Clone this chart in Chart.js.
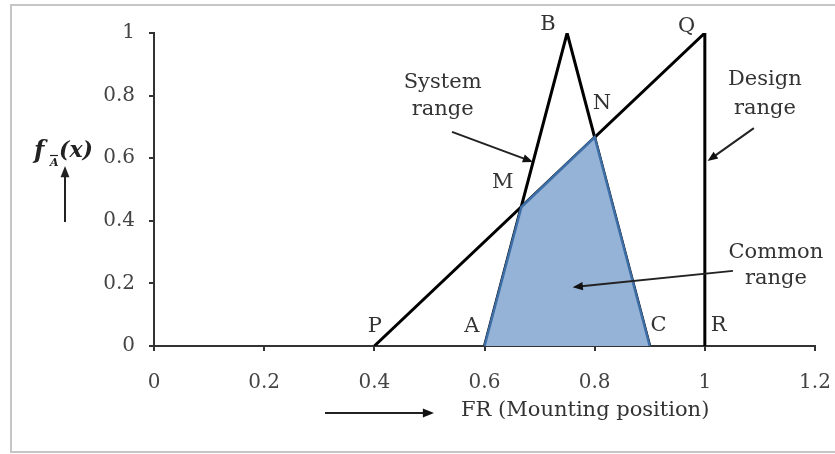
<!DOCTYPE html>
<html>
<head>
<meta charset="utf-8">
<script src="https://cdn.jsdelivr.net/npm/chart.js@4/dist/chart.umd.min.js"></script>
<style>
  html, body { margin: 0; padding: 0; background: #fff; }
  #wrap { width: 835px; height: 454px; position: relative; }
</style>
</head>
<body>
<div id="wrap"><canvas id="chart" width="835" height="454"></canvas></div>
<script>
// data
const designX = [0.4, 1, 1];          // P, Q, R
const designY = [0, 1, 0];
const systemX = [0.6, 0.75, 0.9];     // A, B, C
const systemY = [0, 1, 0];
const commonX = [0.6, 0.667, 0.8, 0.9];   // A, M, N, C
const commonY = [0, 0.444, 0.667, 0];
const baseX = [0.6, 0.9];                 // bottom edge A-C
const baseY = [0, 0];
const xTicks = [0, 0.2, 0.4, 0.6, 0.8, 1, 1.2];
const yTicks = [0, 0.2, 0.4, 0.6, 0.8, 1];

// point labels, in data units
const pointLabels = [
    { t: "B", x: 0.715, y: 1.026 },
    { t: "Q", x: 0.967, y: 1.022 },
    { t: "N", x: 0.813, y: 0.776 },
    { t: "M", x: 0.633, y: 0.521 },
    { t: "P", x: 0.401, y: 0.061 },
    { t: "A", x: 0.577, y: 0.061 },
    { t: "C", x: 0.916, y: 0.064 },
    { t: "R", x: 1.025, y: 0.064 }
];
const notes = [
    { lines: ["System", "range"], x: 0.524, y: [0.843, 0.757], from: [0.541, 0.684], to: [0.688, 0.588] },
    { lines: ["Design", "range"], x: 1.109, y: [0.850, 0.760], from: [1.089, 0.696], to: [1.005, 0.591] },
    { lines: ["Common", "range"], x: 1.129, y: [0.300, 0.214], from: [1.051, 0.240], to: [0.760, 0.188] }
];

function toPoints(xs, ys) {
    return xs.map((x, i) => ({ x: x, y: ys[i] }));
}

function arrow(ctx, x1, y1, x2, y2, head) {
    const a = Math.atan2(y2 - y1, x2 - x1);
    ctx.beginPath();
    ctx.moveTo(x1, y1);
    ctx.lineTo(x2 - Math.cos(a) * head * 0.8, y2 - Math.sin(a) * head * 0.8);
    ctx.stroke();
    ctx.beginPath();
    ctx.moveTo(x2, y2);
    ctx.lineTo(x2 - head * Math.cos(a - 0.38), y2 - head * Math.sin(a - 0.38));
    ctx.lineTo(x2 - head * Math.cos(a + 0.38), y2 - head * Math.sin(a + 0.38));
    ctx.closePath();
    ctx.fill();
}

const decorations = {
    id: "decorations",
    beforeDraw(chart) {
        const ctx = chart.ctx;
        ctx.save();
        ctx.fillStyle = "#fff";
        ctx.fillRect(0, 0, chart.width, chart.height);
        ctx.strokeStyle = "#c6c6c6";
        ctx.lineWidth = 2;
        ctx.strokeRect(11, 5, 840, 447);
        ctx.restore();
    },
    afterDraw(chart) {
        const ctx = chart.ctx;
        const xs = chart.scales.x, ys = chart.scales.y;
        ctx.save();
        ctx.fillStyle = "#333";
        ctx.strokeStyle = "#222";
        ctx.textAlign = "center";
        ctx.textBaseline = "middle";
        ctx.font = "21px 'DejaVu Serif'";
        pointLabels.forEach(p => {
            ctx.fillText(p.t, xs.getPixelForValue(p.x), ys.getPixelForValue(p.y));
        });
        notes.forEach(n => {
            ctx.fillStyle = "#333";
            n.lines.forEach((s, i) => {
                ctx.fillText(s, xs.getPixelForValue(n.x), ys.getPixelForValue(n.y[i]));
            });
            ctx.fillStyle = "#111";
            ctx.lineWidth = 2;
            arrow(ctx, xs.getPixelForValue(n.from[0]), ys.getPixelForValue(n.from[1]),
                xs.getPixelForValue(n.to[0]), ys.getPixelForValue(n.to[1]), 11);
        });

        // x axis title with arrow
        ctx.fillStyle = "#333";
        ctx.textAlign = "left";
        ctx.fillText("FR (Mounting position)", 461, 411);
        ctx.fillStyle = "#111";
        arrow(ctx, 325, 413, 434, 413, 12);

        // y axis label f_A(x) with arrow
        ctx.fillStyle = "#222";
        ctx.font = "bold italic 24px 'DejaVu Serif'";
        ctx.fillText("f", 34, 152);
        ctx.font = "bold italic 11px 'DejaVu Serif'";
        ctx.fillText("A", 50, 163);
        ctx.lineWidth = 1.2;
        ctx.beginPath();
        ctx.moveTo(50, 155.5);
        ctx.lineTo(58, 155.5);
        ctx.stroke();
        ctx.font = "bold italic 22px 'DejaVu Serif'";
        ctx.fillText("(x)", 59, 151);
        ctx.lineWidth = 2;
        arrow(ctx, 65, 222, 65, 166, 12);
        ctx.restore();
    }
};

const tickFont = { family: "'DejaVu Serif'", size: 20 };

new Chart(document.getElementById("chart"), {
    type: "scatter",
    data: {
        datasets: [
            {
                label: "Common range",
                data: toPoints(commonX, commonY),
                showLine: true,
                fill: "origin",
                backgroundColor: "#95b3d7",
                borderColor: "#3e6ea6",
                borderWidth: 2.5,
                pointRadius: 0,
                tension: 0
            },
            {
                label: "Common base",
                data: toPoints(baseX, baseY),
                showLine: true,
                borderColor: "#3e6ea6",
                borderWidth: 3,
                pointRadius: 0
            },
            {
                label: "System range",
                data: toPoints(systemX, systemY),
                showLine: true,
                borderColor: "#000",
                borderWidth: 3,
                pointRadius: 0,
                tension: 0
            },
            {
                label: "Design range",
                data: toPoints(designX, designY),
                showLine: true,
                borderColor: "#000",
                borderWidth: 3,
                pointRadius: 0,
                tension: 0
            }
        ]
    },
    options: {
        responsive: false,
        animation: false,
        layout: { padding: { left: 0, top: 33, right: 20, bottom: 0 } },
        plugins: {
            legend: { display: false },
            tooltip: { enabled: false }
        },
        scales: {
            x: {
                type: "linear",
                min: 0,
                max: 1.2,
                afterBuildTicks: s => { s.ticks = xTicks.map(v => ({ value: v })); },
                afterFit: s => {
                    s.height = 108;
                    s.paddingLeft = 0;
                    s.paddingRight = 0;
                },
                border: { display: true, color: "#333", width: 2 },
                grid: { drawOnChartArea: false, drawTicks: true, tickLength: 5, color: "#333", lineWidth: 2 },
                ticks: { color: "#444", font: tickFont, padding: 20, callback: v => String(v) }
            },
            y: {
                type: "linear",
                min: 0,
                max: 1,
                afterBuildTicks: s => { s.ticks = yTicks.map(v => ({ value: v })); },
                afterFit: s => {
                    s.width = 154;
                    s.paddingTop = 0;
                    s.paddingBottom = 0;
                },
                border: { display: true, color: "#333", width: 2 },
                grid: { drawOnChartArea: false, drawTicks: true, tickLength: 5, color: "#333", lineWidth: 2 },
                ticks: { color: "#444", font: tickFont, padding: 14, callback: v => String(v) }
            }
        }
    },
    plugins: [decorations]
});
</script>
</body>
</html>
